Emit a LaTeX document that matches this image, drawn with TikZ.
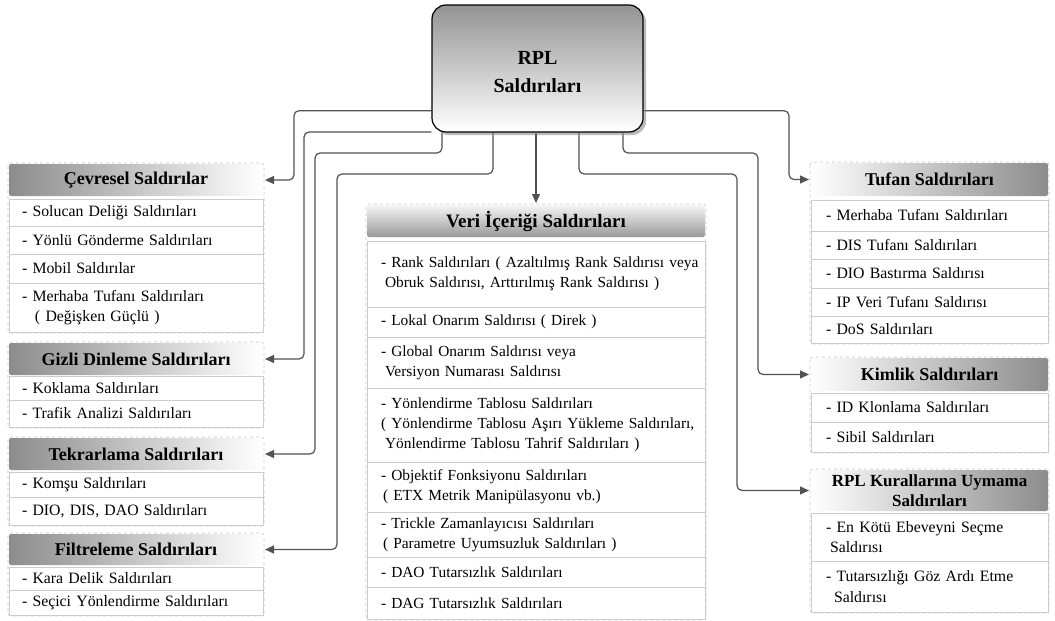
\documentclass[tikz,border=0pt]{standalone}
\usepackage{fontspec}
\setmainfont{Liberation Serif}
\usetikzlibrary{arrows.meta,shadows,backgrounds}

\begin{document}
\begin{tikzpicture}[x=1pt,y=-1pt,
  conn/.style={draw=black!68, line width=1.2pt, rounded corners=5pt,
    -{Triangle[length=9pt,width=8pt]}, shorten >=2pt},
  grp/.style={draw=black!22, dashed, line width=0.6pt, rounded corners=3pt},
  rootbox/.style={draw=black, line width=1.2pt, rounded corners=14pt,
    top color=black!42, bottom color=white,
    minimum width=211pt, minimum height=127pt, align=center,
    font=\fontsize{20pt}{28pt}\selectfont\bfseries,
    drop shadow={shadow xshift=3pt, shadow yshift=-3pt, fill=black!45, opacity=0.6}},
  hdr/.style={anchor=north west, inner sep=0pt, outer sep=0pt, align=center,
    font=\fontsize{18pt}{21pt}\selectfont\bfseries, rounded corners=2pt},
  lhdr/.style={hdr, left color=black!45, right color=white, minimum width=254pt},
  rhdr/.style={hdr, left color=white, right color=black!45, minimum width=237pt},
  mhdr/.style={hdr, top color=black!4, bottom color=black!40, minimum width=338pt,
    font=\fontsize{19pt}{21pt}\selectfont\bfseries},
  item/.style={draw=black!20, line width=0.7pt, fill=white, anchor=north west,
    align=left, inner ysep=0pt, outer sep=0pt,
    font=\fontsize{15.8pt}{20.5pt}\selectfont},
  litem/.style={item, inner xsep=13pt, text width=228pt, minimum width=254pt},
  mitem/.style={item, inner xsep=14pt, text width=310pt, minimum width=338pt,
    font=\fontsize{15.4pt}{20pt}\selectfont},
  ritem/.style={item, inner xsep=15pt, text width=207pt, minimum width=237pt}
]
\useasboundingbox (0,0) rectangle (1055,621);

% ---------- root ----------
\node[rootbox] (root) at (537.5,68.5) {\rule{0pt}{21pt}RPL\\Saldırıları};

% ---------- left column ----------
\draw[grp] (8,163) rectangle (264,333);
\node[lhdr, minimum height=32pt] (cevh) at (9,164) {Çevresel Saldırılar};
\node[litem, minimum height=27pt] (cev1) at (9,199) {- Solucan Deliği Saldırıları};
\node[litem, minimum height=28pt] (cev2) at (9,226) {- Yönlü Gönderme Saldırıları};
\node[litem, minimum height=29pt] (cev3) at (9,254) {- Mobil Saldırılar};
\node[litem, minimum height=49pt] (cev4) at (9,283) {- Merhaba Tufanı Saldırıları\\\hspace*{13pt}( Değişken Güçlü )};

\draw[grp] (8,342) rectangle (264,428);
\node[lhdr, minimum height=32pt] (gizh) at (9,343) {Gizli Dinleme Saldırıları};
\node[litem, minimum height=24pt] (giz1) at (9,376) {- Koklama Saldırıları};
\node[litem, minimum height=27pt] (giz2) at (9,400) {- Trafik Analizi Saldırıları};

\draw[grp] (8,437) rectangle (264,526);
\node[lhdr, minimum height=32pt] (tekh) at (9,438) {Tekrarlama Saldırıları};
\node[litem, minimum height=25pt] (tek1) at (9,472) {- Komşu Saldırıları};
\node[litem, minimum height=28pt] (tek2) at (9,497) {- DIO, DIS, DAO Saldırıları};

\draw[grp] (8,533) rectangle (264,616);
\node[lhdr, minimum height=31pt] (filh) at (9,534) {Filtreleme Saldırıları};
\node[litem, minimum height=23pt] (fil1) at (9,567) {- Kara Delik Saldırıları};
\node[litem, minimum height=25pt] (fil2) at (9,590) {- Seçici Yönlendirme Saldırıları};

% ---------- middle column ----------
\draw[grp] (366,204) rectangle (706,620);
\node[mhdr, minimum height=32pt] (verih) at (367,205) {Veri İçeriği Saldırıları};
\node[mitem, minimum height=66pt] (veri1) at (367,241) {\mbox{- Rank Saldırıları ( Azaltılmış Rank Saldırısı veya}\\\hspace*{4pt}Obruk Saldırısı, Arttırılmış Rank Saldırısı )};
\node[mitem, minimum height=30pt] (veri2) at (367,307) {- Lokal Onarım Saldırısı ( Direk )};
\node[mitem, minimum height=51pt] (veri3) at (367,337) {- Global Onarım Saldırısı veya\\\hspace*{4pt}Versiyon Numarası Saldırısı};
\node[mitem, minimum height=74pt] (veri4) at (367,388) {- Yönlendirme Tablosu Saldırıları\\\mbox{( Yönlendirme Tablosu Aşırı Yükleme Saldırıları,}\\\hspace*{4pt}Yönlendirme Tablosu Tahrif Saldırıları )};
\node[mitem, minimum height=50pt] (veri5) at (367,462) {- Objektif Fonksiyonu Saldırıları\\\hspace*{2pt}( ETX Metrik Manipülasyonu vb.)};
\node[mitem, minimum height=45pt] (veri6) at (367,512) {- Trickle Zamanlayıcısı Saldırıları\\\hspace*{2pt}( Parametre Uyumsuzluk Saldırıları )};
\node[mitem, minimum height=30pt] (veri7) at (367,557) {- DAO Tutarsızlık Saldırıları};
\node[mitem, minimum height=32pt] (veri8) at (367,587) {- DAG Tutarsızlık Saldırıları};

% ---------- right column ----------
\draw[grp] (810,162) rectangle (1049,344);
\node[rhdr, minimum height=33pt] (tufh) at (811,163) {Tufan Saldırıları};
\node[ritem, minimum height=31pt] (tuf1) at (811,200) {- Merhaba Tufanı Saldırıları};
\node[ritem, minimum height=28pt] (tuf2) at (811,231) {- DIS Tufanı Saldırıları};
\node[ritem, minimum height=29pt] (tuf3) at (811,259) {- DIO Bastırma Saldırısı};
\node[ritem, minimum height=28pt] (tuf4) at (811,288) {- IP Veri Tufanı Saldırısı};
\node[ritem, minimum height=27pt] (tuf5) at (811,316) {- DoS Saldırıları};

\draw[grp] (810,357) rectangle (1049,453);
\node[rhdr, minimum height=33pt] (kimh) at (811,358) {Kimlik Saldırıları};
\node[ritem, minimum height=29pt] (kim1) at (811,393) {- ID Klonlama Saldırıları};
\node[ritem, minimum height=30pt] (kim2) at (811,422) {- Sibil Saldırıları};

\draw[grp] (810,469) rectangle (1049,613);
\node[rhdr, minimum height=41pt, font=\fontsize{17pt}{20pt}\selectfont\bfseries] (rplh) at (811,470) {RPL Kurallarına Uymama\\Saldırıları};
\node[ritem, minimum height=48pt] (rpl1) at (811,513) {- En Kötü Ebeveyni Seçme\\\hspace*{4pt}Saldırısı};
\node[ritem, minimum height=51pt] (rpl2) at (811,561) {- Tutarsızlığı Göz Ardı Etme\\\hspace*{8pt}Saldırısı};

% ---------- connectors (behind the root box) ----------
\coordinate (k1) at (294,110.7);
\coordinate (k2) at (304,132);
\coordinate (k3a) at (442,153);
\coordinate (k3b) at (315,153);
\coordinate (k4a) at (493,174);
\coordinate (k4b) at (337,174);
\coordinate (k6a) at (579,174);
\coordinate (k6b) at (737,174);
\coordinate (k7a) at (623,153);
\coordinate (k7b) at (758,153);
\coordinate (k8) at (789,110.7);
\begin{scope}[on background layer]
  \draw[conn] (root.west |- k1) -- (k1) |- (cevh.east);
  \draw[conn] (root.west |- k2) -- (k2) |- (gizh.east);
  \draw[conn] (root.south -| k3a) -- (k3a) -- (k3b) |- (tekh.east);
  \draw[conn] (root.south -| k4a) -- (k4a) -- (k4b) |- (filh.east);
  \draw[conn] (root.south -| verih.north) -- (verih.north);
  \draw[conn] (root.south -| k6a) -- (k6a) -- (k6b) |- (rplh.west);
  \draw[conn] (root.south -| k7a) -- (k7a) -- (k7b) |- (kimh.west);
  \draw[conn] (root.east |- k8) -- (k8) |- (tufh.west);
\end{scope}
\end{tikzpicture}
\end{document}
